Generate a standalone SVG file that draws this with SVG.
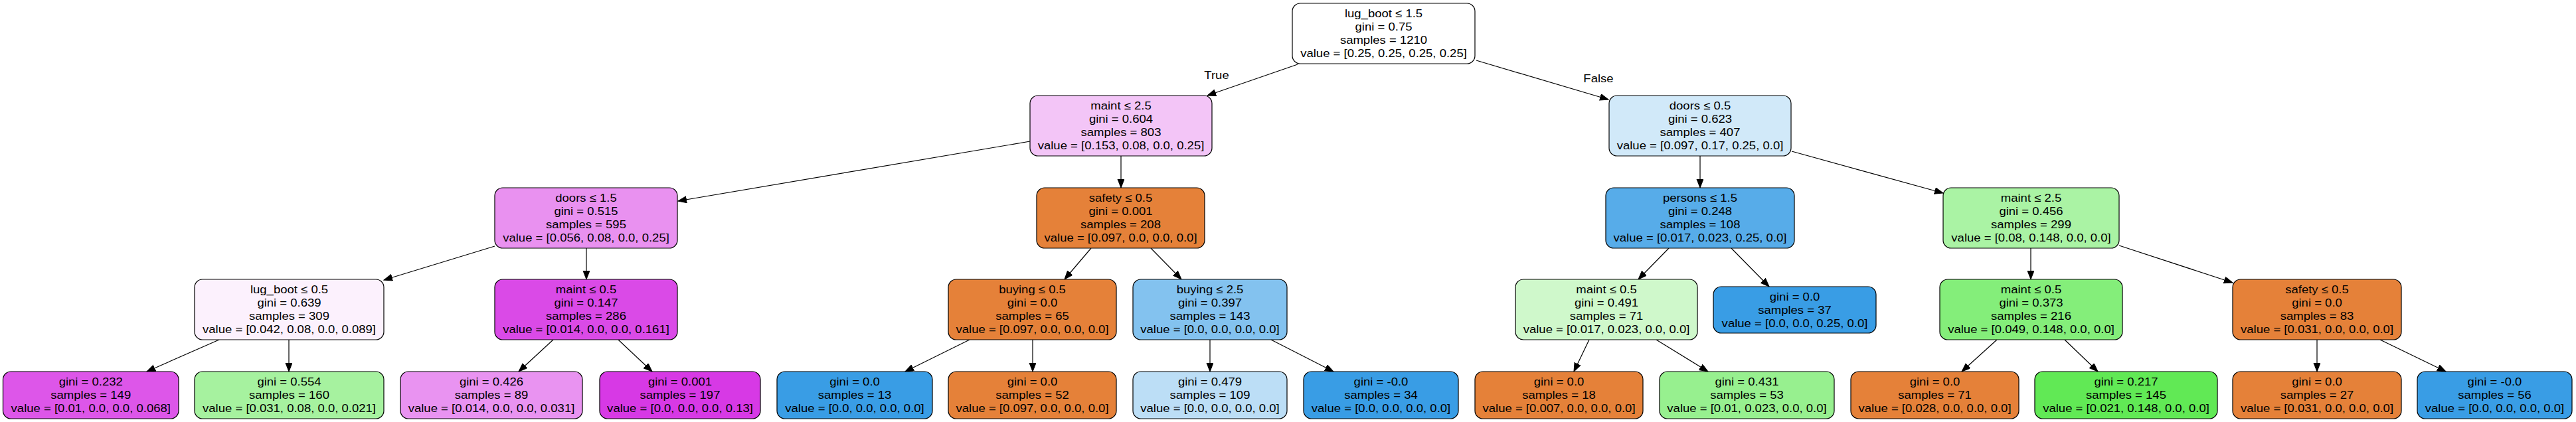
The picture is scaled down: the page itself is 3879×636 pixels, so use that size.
<svg xmlns="http://www.w3.org/2000/svg" width="3879" height="636" viewBox="0 0 3879 636">
<style>
.box{stroke:#000;stroke-width:1.2}
text{font-family:"Liberation Sans",Arial,Helvetica,sans-serif;font-size:17px;fill:#000;text-anchor:middle}
.edge{stroke:#000;stroke-width:1.2;fill:none;marker-end:url(#ah)}
</style>
<defs>
<marker id="ah" markerWidth="15" markerHeight="12" refX="13" refY="5" orient="auto" markerUnits="userSpaceOnUse">
<path d="M0,0 L13,5 L0,10 Z" fill="#000" stroke="#000" stroke-width="1"/>
</marker>
</defs>
<rect width="3879" height="636" fill="#fff"/>
<g id="connectors">
<line class="edge" x1="1954" y1="97" x2="1818" y2="144"/>
<line class="edge" x1="2223" y1="91" x2="2422" y2="150"/>
<line class="edge" x1="1551" y1="213" x2="1021" y2="303"/>
<line class="edge" x1="1688" y1="235" x2="1688" y2="283"/>
<line class="edge" x1="745" y1="371" x2="578" y2="422"/>
<line class="edge" x1="883" y1="374" x2="883" y2="421"/>
<line class="edge" x1="330" y1="512" x2="221" y2="560"/>
<line class="edge" x1="435" y1="512" x2="435" y2="560"/>
<line class="edge" x1="833" y1="512" x2="781" y2="560"/>
<line class="edge" x1="931" y1="512" x2="982" y2="560"/>
<line class="edge" x1="1643" y1="374" x2="1603" y2="421"/>
<line class="edge" x1="1733" y1="374" x2="1779" y2="421"/>
<line class="edge" x1="1460" y1="512" x2="1363" y2="560"/>
<line class="edge" x1="1555" y1="512" x2="1555" y2="560"/>
<line class="edge" x1="1822" y1="512" x2="1822" y2="560"/>
<line class="edge" x1="1914" y1="512" x2="2008" y2="560"/>
<line class="edge" x1="2560" y1="235" x2="2560" y2="283"/>
<line class="edge" x1="2698" y1="228" x2="2926" y2="291"/>
<line class="edge" x1="2513" y1="374" x2="2467" y2="421"/>
<line class="edge" x1="2607" y1="374" x2="2664" y2="432"/>
<line class="edge" x1="2393" y1="512" x2="2370" y2="560"/>
<line class="edge" x1="2494" y1="512" x2="2572" y2="560"/>
<line class="edge" x1="3058" y1="374" x2="3058" y2="421"/>
<line class="edge" x1="3191" y1="370" x2="3362" y2="426"/>
<line class="edge" x1="3007" y1="512" x2="2954" y2="560"/>
<line class="edge" x1="3109" y1="512" x2="3159" y2="560"/>
<line class="edge" x1="3489" y1="512" x2="3489" y2="560"/>
<line class="edge" x1="3584" y1="512" x2="3683" y2="560"/>
<g transform="translate(1832 0) scale(1.09 1)"><text x="0" y="119">True</text></g>
<g transform="translate(2407 0) scale(1.09 1)"><text x="0" y="124">False</text></g>
</g>

<g id="n0"><rect class="box" x="1946" y="5" width="275" height="91" rx="12" fill="#ffffff"/>
<g transform="translate(2083.5 0) scale(1.09 1)"><text x="0" y="26">lug_boot ≤ 1.5</text><text x="0" y="46">gini = 0.75</text><text x="0" y="66">samples = 1210</text><text x="0" y="86">value = [0.25, 0.25, 0.25, 0.25]</text></g></g>

<g id="n1"><rect class="box" x="1551" y="144" width="274" height="91" rx="12" fill="#f3c5f7"/>
<g transform="translate(1688 0) scale(1.09 1)"><text x="0" y="165">maint ≤ 2.5</text><text x="0" y="185">gini = 0.604</text><text x="0" y="205">samples = 803</text><text x="0" y="225">value = [0.153, 0.08, 0.0, 0.25]</text></g></g>

<g id="n16"><rect class="box" x="2423" y="144" width="274" height="91" rx="12" fill="#d1e9f9"/>
<g transform="translate(2560 0) scale(1.09 1)"><text x="0" y="165">doors ≤ 0.5</text><text x="0" y="185">gini = 0.623</text><text x="0" y="205">samples = 407</text><text x="0" y="225">value = [0.097, 0.17, 0.25, 0.0]</text></g></g>

<g id="n2"><rect class="box" x="745" y="283" width="275" height="91" rx="12" fill="#e991f0"/>
<g transform="translate(882.5 0) scale(1.09 1)"><text x="0" y="304">doors ≤ 1.5</text><text x="0" y="324">gini = 0.515</text><text x="0" y="344">samples = 595</text><text x="0" y="364">value = [0.056, 0.08, 0.0, 0.25]</text></g></g>

<g id="n9"><rect class="box" x="1561" y="283" width="253" height="91" rx="12" fill="#e58139"/>
<g transform="translate(1687.5 0) scale(1.09 1)"><text x="0" y="304">safety ≤ 0.5</text><text x="0" y="324">gini = 0.001</text><text x="0" y="344">samples = 208</text><text x="0" y="364">value = [0.097, 0.0, 0.0, 0.0]</text></g></g>

<g id="n17"><rect class="box" x="2418" y="283" width="284" height="91" rx="12" fill="#57ace9"/>
<g transform="translate(2560 0) scale(1.09 1)"><text x="0" y="304">persons ≤ 1.5</text><text x="0" y="324">gini = 0.248</text><text x="0" y="344">samples = 108</text><text x="0" y="364">value = [0.017, 0.023, 0.25, 0.0]</text></g></g>

<g id="n22"><rect class="box" x="2926" y="283" width="265" height="91" rx="12" fill="#aaf3a4"/>
<g transform="translate(3058.5 0) scale(1.09 1)"><text x="0" y="304">maint ≤ 2.5</text><text x="0" y="324">gini = 0.456</text><text x="0" y="344">samples = 299</text><text x="0" y="364">value = [0.08, 0.148, 0.0, 0.0]</text></g></g>

<g id="n3"><rect class="box" x="293" y="421" width="285" height="91" rx="12" fill="#fcf1fd"/>
<g transform="translate(435.5 0) scale(1.09 1)"><text x="0" y="442">lug_boot ≤ 0.5</text><text x="0" y="462">gini = 0.639</text><text x="0" y="482">samples = 309</text><text x="0" y="502">value = [0.042, 0.08, 0.0, 0.089]</text></g></g>

<g id="n6"><rect class="box" x="745" y="421" width="275" height="91" rx="12" fill="#da4ae7"/>
<g transform="translate(882.5 0) scale(1.09 1)"><text x="0" y="442">maint ≤ 0.5</text><text x="0" y="462">gini = 0.147</text><text x="0" y="482">samples = 286</text><text x="0" y="502">value = [0.014, 0.0, 0.0, 0.161]</text></g></g>

<g id="n10"><rect class="box" x="1428" y="421" width="253" height="91" rx="12" fill="#e58139"/>
<g transform="translate(1554.5 0) scale(1.09 1)"><text x="0" y="442">buying ≤ 0.5</text><text x="0" y="462">gini = 0.0</text><text x="0" y="482">samples = 65</text><text x="0" y="502">value = [0.097, 0.0, 0.0, 0.0]</text></g></g>

<g id="n13"><rect class="box" x="1706" y="421" width="232" height="91" rx="12" fill="#83c2ef"/>
<g transform="translate(1822 0) scale(1.09 1)"><text x="0" y="442">buying ≤ 2.5</text><text x="0" y="462">gini = 0.397</text><text x="0" y="482">samples = 143</text><text x="0" y="502">value = [0.0, 0.0, 0.0, 0.0]</text></g></g>

<g id="n18"><rect class="box" x="2282" y="421" width="274" height="91" rx="12" fill="#cff8cb"/>
<g transform="translate(2419 0) scale(1.09 1)"><text x="0" y="442">maint ≤ 0.5</text><text x="0" y="462">gini = 0.491</text><text x="0" y="482">samples = 71</text><text x="0" y="502">value = [0.017, 0.023, 0.0, 0.0]</text></g></g>

<g id="n21"><rect class="box" x="2580" y="432" width="245" height="70" rx="12" fill="#399de5"/>
<g transform="translate(2702.5 0) scale(1.09 1)"><text x="0" y="453.5">gini = 0.0</text><text x="0" y="473.5">samples = 37</text><text x="0" y="493.5">value = [0.0, 0.0, 0.25, 0.0]</text></g></g>

<g id="n23"><rect class="box" x="2921" y="421" width="275" height="91" rx="12" fill="#84ee7a"/>
<g transform="translate(3058.5 0) scale(1.09 1)"><text x="0" y="442">maint ≤ 0.5</text><text x="0" y="462">gini = 0.373</text><text x="0" y="482">samples = 216</text><text x="0" y="502">value = [0.049, 0.148, 0.0, 0.0]</text></g></g>

<g id="n26"><rect class="box" x="3362" y="421" width="254" height="91" rx="12" fill="#e58139"/>
<g transform="translate(3489 0) scale(1.09 1)"><text x="0" y="442">safety ≤ 0.5</text><text x="0" y="462">gini = 0.0</text><text x="0" y="482">samples = 83</text><text x="0" y="502">value = [0.031, 0.0, 0.0, 0.0]</text></g></g>

<g id="n4"><rect class="box" x="4.5" y="560" width="264.5" height="71" rx="12" fill="#dd56e9"/>
<g transform="translate(136.75 0) scale(1.09 1)"><text x="0" y="581.5">gini = 0.232</text><text x="0" y="601.5">samples = 149</text><text x="0" y="621.5">value = [0.01, 0.0, 0.0, 0.068]</text></g></g>

<g id="n5"><rect class="box" x="293" y="560" width="285" height="71" rx="12" fill="#a6f29f"/>
<g transform="translate(435.5 0) scale(1.09 1)"><text x="0" y="581.5">gini = 0.554</text><text x="0" y="601.5">samples = 160</text><text x="0" y="621.5">value = [0.031, 0.08, 0.0, 0.021]</text></g></g>

<g id="n7"><rect class="box" x="603" y="560" width="274" height="71" rx="12" fill="#e993f1"/>
<g transform="translate(740 0) scale(1.09 1)"><text x="0" y="581.5">gini = 0.426</text><text x="0" y="601.5">samples = 89</text><text x="0" y="621.5">value = [0.014, 0.0, 0.0, 0.031]</text></g></g>

<g id="n8"><rect class="box" x="903" y="560" width="242" height="71" rx="12" fill="#d739e5"/>
<g transform="translate(1024 0) scale(1.09 1)"><text x="0" y="581.5">gini = 0.001</text><text x="0" y="601.5">samples = 197</text><text x="0" y="621.5">value = [0.0, 0.0, 0.0, 0.13]</text></g></g>

<g id="n11"><rect class="box" x="1170" y="560" width="234" height="71" rx="12" fill="#399de5"/>
<g transform="translate(1287 0) scale(1.09 1)"><text x="0" y="581.5">gini = 0.0</text><text x="0" y="601.5">samples = 13</text><text x="0" y="621.5">value = [0.0, 0.0, 0.0, 0.0]</text></g></g>

<g id="n12"><rect class="box" x="1428" y="560" width="253" height="71" rx="12" fill="#e58139"/>
<g transform="translate(1554.5 0) scale(1.09 1)"><text x="0" y="581.5">gini = 0.0</text><text x="0" y="601.5">samples = 52</text><text x="0" y="621.5">value = [0.097, 0.0, 0.0, 0.0]</text></g></g>

<g id="n14"><rect class="box" x="1706" y="560" width="232" height="71" rx="12" fill="#bcdef6"/>
<g transform="translate(1822 0) scale(1.09 1)"><text x="0" y="581.5">gini = 0.479</text><text x="0" y="601.5">samples = 109</text><text x="0" y="621.5">value = [0.0, 0.0, 0.0, 0.0]</text></g></g>

<g id="n15"><rect class="box" x="1963" y="560" width="233" height="71" rx="12" fill="#399de5"/>
<g transform="translate(2079.5 0) scale(1.09 1)"><text x="0" y="581.5">gini = -0.0</text><text x="0" y="601.5">samples = 34</text><text x="0" y="621.5">value = [0.0, 0.0, 0.0, 0.0]</text></g></g>

<g id="n19"><rect class="box" x="2221" y="560" width="253" height="71" rx="12" fill="#e58139"/>
<g transform="translate(2347.5 0) scale(1.09 1)"><text x="0" y="581.5">gini = 0.0</text><text x="0" y="601.5">samples = 18</text><text x="0" y="621.5">value = [0.007, 0.0, 0.0, 0.0]</text></g></g>

<g id="n20"><rect class="box" x="2499" y="560" width="263" height="71" rx="12" fill="#97f08f"/>
<g transform="translate(2630.5 0) scale(1.09 1)"><text x="0" y="581.5">gini = 0.431</text><text x="0" y="601.5">samples = 53</text><text x="0" y="621.5">value = [0.01, 0.023, 0.0, 0.0]</text></g></g>

<g id="n24"><rect class="box" x="2787" y="560" width="253" height="71" rx="12" fill="#e58139"/>
<g transform="translate(2913.5 0) scale(1.09 1)"><text x="0" y="581.5">gini = 0.0</text><text x="0" y="601.5">samples = 71</text><text x="0" y="621.5">value = [0.028, 0.0, 0.0, 0.0]</text></g></g>

<g id="n25"><rect class="box" x="3064" y="560" width="275" height="71" rx="12" fill="#61e955"/>
<g transform="translate(3201.5 0) scale(1.09 1)"><text x="0" y="581.5">gini = 0.217</text><text x="0" y="601.5">samples = 145</text><text x="0" y="621.5">value = [0.021, 0.148, 0.0, 0.0]</text></g></g>

<g id="n27"><rect class="box" x="3362" y="560" width="254" height="71" rx="12" fill="#e58139"/>
<g transform="translate(3489 0) scale(1.09 1)"><text x="0" y="581.5">gini = 0.0</text><text x="0" y="601.5">samples = 27</text><text x="0" y="621.5">value = [0.031, 0.0, 0.0, 0.0]</text></g></g>

<g id="n28"><rect class="box" x="3640" y="560" width="233" height="71" rx="12" fill="#399de5"/>
<g transform="translate(3756.5 0) scale(1.09 1)"><text x="0" y="581.5">gini = -0.0</text><text x="0" y="601.5">samples = 56</text><text x="0" y="621.5">value = [0.0, 0.0, 0.0, 0.0]</text></g></g>
</svg>
